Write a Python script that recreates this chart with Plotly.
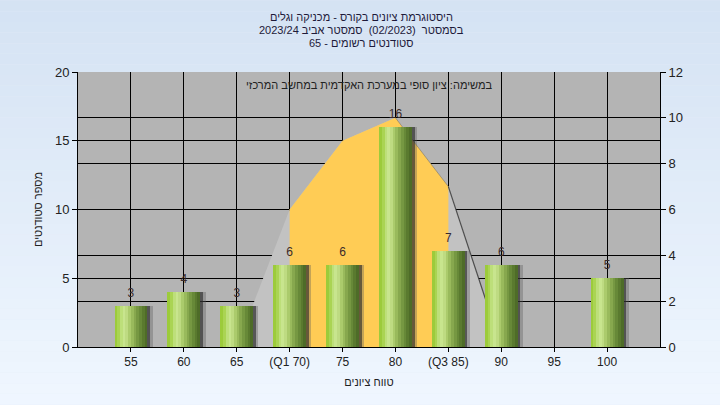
import plotly.graph_objects as go

# ---- data ----
categories = [55, 60, 65, 70, 75, 80, 85, 90, 95, 100]
tick_labels = ["55", "60", "65", "(Q1 70)", "75", "80", "(Q3 85)", "90", "95", "100"]
counts = [3, 4, 3, 6, 6, 16, 7, 6, 0, 5]

curve_x = [65, 70, 75, 80, 85, 90]          # distribution curve (right axis)
curve_y = [0, 6, 9, 10, 7, 0]
iqr_x = [70, 75, 80, 85]                    # Q1..Q3 part of curve
iqr_y = [6, 9, 10, 7]
edge1_x = [80, 85]
edge1_y = [10, 7]
edge2_x = [85, 90]
edge2_y = [7, 0]

title_lines = [
    "היסטוגרמת ציונים בקורס - מכניקה וגלים",
    "בסמסטר  (02/2023)  סמסטר אביב 2023/24",
    "סטודנטים רשומים - 65",
]
subtitle = "במשימה: ציון סופי במערכת האקדמית במחשב המרכזי"
x_title = "טווח ציונים"
y_title = "מספר סטודנטים"

RLE, PDF = "\u202B", "\u202C"
def rtl(s):
    return RLE + s + PDF

FONT = "Liberation Sans, DejaVu Sans, Arial, sans-serif"
W, H = 720, 405
ML, MR, MT, MB = 78, 60, 72, 58
PW, PH = W - ML - MR, H - MT - MB

fig = go.Figure()

# curve areas (main axis y = right side, 0-12)
fig.add_trace(go.Scatter(x=curve_x, y=curve_y, mode="lines", fill="tozeroy",
                         fillcolor="#C2C2C2", line=dict(width=0, color="#C2C2C2"),
                         yaxis="y", hoverinfo="skip", showlegend=False))
fig.add_trace(go.Scatter(x=iqr_x, y=iqr_y, mode="lines", fill="tozeroy",
                         fillcolor="#FFCC55", line=dict(width=0, color="#FFCC55"),
                         yaxis="y", hoverinfo="skip", showlegend=False))
fig.add_trace(go.Scatter(x=edge1_x, y=edge1_y, mode="lines",
                         line=dict(width=1, color="rgba(90,90,90,0.45)"),
                         yaxis="y", hoverinfo="skip", showlegend=False))
fig.add_trace(go.Scatter(x=edge2_x, y=edge2_y, mode="lines",
                         line=dict(width=1.2, color="rgba(50,50,50,0.8)"),
                         yaxis="y", hoverinfo="skip", showlegend=False))

# bars (overlay axis y2 = left side, 0-20)
bar_w = 3.1
# shadows
fig.add_trace(go.Bar(x=categories, y=counts, width=0.55, offset=bar_w / 2 - 0.05,
                     marker=dict(color="rgba(90,90,90,0.35)", line=dict(width=0)),
                     yaxis="y2", hoverinfo="skip", showlegend=False))
fig.add_trace(go.Bar(x=categories, y=counts, width=0.3, offset=bar_w / 2 - 0.05,
                     marker=dict(color="rgba(40,40,40,0.6)", line=dict(width=0)),
                     yaxis="y2", hoverinfo="skip", showlegend=False))

slice_colors = ["#9CCB3B", "#AAD453", "#BDDF7A", "#C8E58E", "#BEDB82", "#ABCB6C",
                "#99BA5C", "#87A84E", "#769842", "#678938", "#5A7A2F", "#4E6C28"]
n = len(slice_colors)
sw = bar_w / n
for i, c in enumerate(slice_colors):
    fig.add_trace(go.Bar(x=categories, y=counts, width=sw * 1.04, offset=-bar_w / 2 + i * sw,
                         marker=dict(color=c, line=dict(width=0)),
                         yaxis="y2", hoverinfo="skip", showlegend=False))

lbl_x = [c for c, v in zip(categories, counts) if v > 0]
lbl_y = [v for v in counts if v > 0]
fig.add_trace(go.Scatter(x=lbl_x, y=lbl_y, mode="markers+text", text=[str(v) for v in lbl_y],
                         textposition="top center",
                         marker=dict(size=8, opacity=0),
                         textfont=dict(family=FONT, size=12, color="#3A2A2A"),
                         yaxis="y2", hoverinfo="skip", showlegend=False))

# background gradient (paper)
shapes = []
nb = 40
top = (212, 226, 243)
bot = (240, 247, 255)
for i in range(nb):
    t = i / (nb - 1)
    col = tuple(round(top[k] + (bot[k] - top[k]) * t) for k in range(3))
    y1px = -10 + i * (H + 20) / nb
    y0px = -10 + (i + 1) * (H + 20) / nb
    shapes.append(dict(type="rect", xref="paper", yref="paper",
                       x0=-0.3, x1=1.3,
                       y0=(H - MB - y0px) / PH, y1=(H - MB - y1px) / PH,
                       fillcolor="rgb(%d,%d,%d)" % col, line=dict(width=0), layer="below"))
# plot area background
shapes.append(dict(type="rect", xref="x domain", yref="y domain", x0=0, x1=1, y0=0, y1=1,
                   fillcolor="#B4B4B4", line=dict(width=0), layer="below"))

annotations = []
for i, line in enumerate(title_lines):
    ypx = 17 + 13 * i
    annotations.append(dict(text=rtl(line), xref="paper", yref="paper",
                            x=(361 - ML) / PW, y=(H - MB - ypx) / PH,
                            xanchor="center", yanchor="middle", showarrow=False,
                            font=dict(family=FONT, size=11, color="#1E1A3A")))
annotations.append(dict(text=rtl(subtitle), xref="x domain", yref="y domain", x=0.5, y=0.952,
                        xanchor="center", yanchor="middle", showarrow=False,
                        font=dict(family=FONT, size=11, color="#222")))

fig.update_layout(
    width=W, height=H,
    margin=dict(l=ML, r=MR, t=MT, b=MB),
    paper_bgcolor="#E4EDF8",
    plot_bgcolor="#B4B4B4",
    barmode="overlay",
    bargap=0,
    showlegend=False,
    font=dict(family=FONT, size=12, color="#222"),
    shapes=shapes,
    xaxis=dict(range=[50, 105], tickmode="array", tickvals=categories, ticktext=tick_labels,
               showgrid=True, gridcolor="#000", gridwidth=1, zeroline=False,
               showline=True, linecolor="#000", linewidth=1,
               ticks="outside", ticklen=4, tickcolor="#000",
               tickfont=dict(family=FONT, size=12, color="#222"),
               title=dict(text=rtl(x_title), font=dict(family=FONT, size=11, color="#222"),
                          standoff=9)),
    yaxis=dict(range=[0, 12], side="right", tickmode="linear", tick0=0, dtick=2,
               showgrid=True, gridcolor="#000", gridwidth=1, zeroline=False,
               showline=True, linecolor="#000", linewidth=1,
               ticks="outside", ticklen=5, tickcolor="#000",
               tickfont=dict(family=FONT, size=13, color="#222")),
    yaxis2=dict(range=[0, 20], side="left", overlaying="y", tickmode="linear", tick0=0, dtick=5,
                showgrid=True, gridcolor="#000", gridwidth=1, zeroline=False,
                showline=True, linecolor="#000", linewidth=1,
                ticks="outside", ticklen=5, tickcolor="#000",
                tickfont=dict(family=FONT, size=13, color="#222"),
                title=dict(text=rtl(y_title), font=dict(family=FONT, size=11, color="#222"),
                           standoff=10)),
    annotations=annotations,
)

fig.write_html("out.html", config={"displayModeBar": False},
               post_script="document.body.style.margin='0';")
